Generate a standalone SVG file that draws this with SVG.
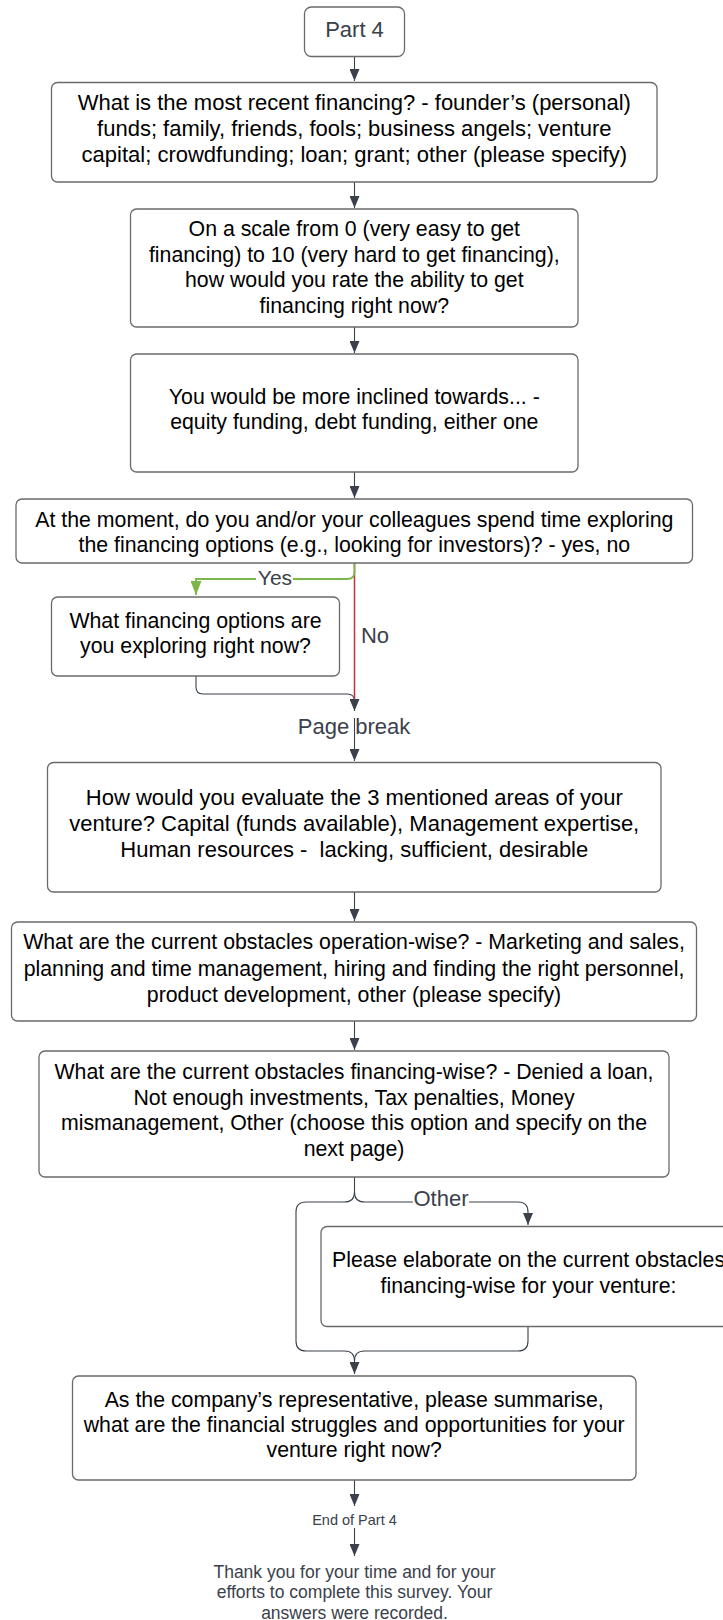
<svg xmlns="http://www.w3.org/2000/svg" width="723" height="1620" viewBox="0 0 723 1620">
<style>
.box{fill:#fff;stroke:#6a6a6a;stroke-width:1.3}
.t{font-family:"Liberation Sans",Arial,sans-serif;font-size:21.3px;fill:#000;text-anchor:middle}
.t1{font-size:22px}
.g{font-family:"Liberation Sans",Arial,sans-serif;font-size:22px;fill:#3a414a;text-anchor:middle}
.c{fill:none;stroke:#3a414a;stroke-width:1.1}
</style>
<defs>
<marker id="arr" markerUnits="userSpaceOnUse" markerWidth="12" markerHeight="10" viewBox="0 0 12 10" refX="12" refY="5" orient="auto"><path d="M0,0 L12,5 L0,10 z" fill="#3a414a"/></marker>
<marker id="arrG" markerUnits="userSpaceOnUse" markerWidth="14" markerHeight="11" viewBox="0 0 14 11" refX="14" refY="5.5" orient="auto"><path d="M0,0 L14,5.5 L0,11 z" fill="#7ab648"/></marker>
</defs>
<rect width="723" height="1620" fill="#fff"/>

<g id="connectors">
<path class="c" d="M354.5,56.5 V81" marker-end="url(#arr)"/>
<path class="c" d="M354.5,182 V208" marker-end="url(#arr)"/>
<path class="c" d="M354.5,327 V353" marker-end="url(#arr)"/>
<path class="c" d="M354.5,472 V498" marker-end="url(#arr)"/>
<path class="c" d="M196,676 V687 Q196,694 203,694 H347 Q354.5,694 354.5,701 V711" marker-end="url(#arr)"/>
<path d="M354.5,563 V699" fill="none" stroke="#c92d39" stroke-width="1.5"/>
<path d="M354.5,563 V572 Q354.5,579 347,579 H196 V595" fill="none" stroke="#7ab648" stroke-width="1.8" marker-end="url(#arrG)"/>
<rect x="256" y="568" width="37" height="20" fill="#fff"/>
<path class="c" d="M354.5,718 V761" marker-end="url(#arr)"/>
<path class="c" d="M354.5,892 V921" marker-end="url(#arr)"/>
<path class="c" d="M354.5,1021 V1050" marker-end="url(#arr)"/>
<path class="c" d="M354.5,1177 V1192 Q354.5,1202 344.5,1202 H306 Q296,1202 296,1212 V1341 Q296,1351 306,1351 H344.5 Q354.5,1351 354.5,1361 V1374" marker-end="url(#arr)"/>
<path class="c" d="M354.5,1192 Q354.5,1202 364.5,1202 H518 Q528,1202 528,1212 V1225" marker-end="url(#arr)"/>
<path class="c" d="M528,1327 V1341 Q528,1351 518,1351 H364.5 Q354.5,1351 354.5,1361"/>
<rect x="413" y="1190" width="56" height="22" fill="#fff"/>
<path class="c" d="M354.5,1480 V1506" marker-end="url(#arr)"/>
<path class="c" d="M354.5,1528 V1556" marker-end="url(#arr)"/>
<text class="g" x="275" y="584.5" style="font-size:21px">Yes</text>
<text class="g" x="375" y="643">No</text>
<text class="g" x="441" y="1206">Other</text>
</g>

<g id="part4">
<rect class="box" x="304.5" y="7" width="100" height="49.5" rx="7"/>
<text class="g" x="354.5" y="36.5">Part 4</text>
</g>

<g id="q-recent-financing">
<rect class="box" x="51.5" y="82.5" width="605.5" height="99.5" rx="6"/>
<text class="t t1" x="354.3" y="110">What is the most recent financing? - founder’s (personal)</text>
<text class="t t1" x="354.3" y="136">funds; family, friends, fools; business angels; venture</text>
<text class="t t1" x="354.3" y="162">capital; crowdfunding; loan; grant; other (please specify)</text>
</g>

<g id="q-scale">
<rect class="box" x="130.5" y="209" width="447.5" height="118" rx="6"/>
<text class="t" x="354.3" y="236">On a scale from 0 (very easy to get</text>
<text class="t" x="354.3" y="261.5">financing) to 10 (very hard to get financing),</text>
<text class="t" x="354.3" y="287">how would you rate the ability to get</text>
<text class="t" x="354.3" y="312.5">financing right now?</text>
</g>

<g id="q-inclined">
<rect class="box" x="130.5" y="354" width="447.5" height="118" rx="6"/>
<text class="t" x="354.3" y="403.5">You would be more inclined towards... -</text>
<text class="t" x="354.3" y="429">equity funding, debt funding, either one</text>
</g>

<g id="q-exploring">
<rect class="box" x="16" y="499" width="676.5" height="64" rx="6"/>
<text class="t" x="354.3" y="526.5">At the moment, do you and/or your colleagues spend time exploring</text>
<text class="t" x="354.3" y="552">the financing options (e.g., looking for investors)? - yes, no</text>
</g>

<g id="q-options">
<rect class="box" x="51.5" y="597" width="288" height="79" rx="6"/>
<text class="t" x="195.5" y="628">What financing options are</text>
<text class="t" x="195.5" y="653">you exploring right now?</text>
</g>

<g id="page-break">
<text class="g" x="354" y="734">Page break</text>
</g>

<g id="q-evaluate">
<rect class="box" x="47.5" y="762.5" width="613.5" height="129.5" rx="6"/>
<text class="t t1" x="354.3" y="804.5">How would you evaluate the 3 mentioned areas of your</text>
<text class="t t1" x="354.3" y="831">venture? Capital (funds available), Management expertise,</text>
<text class="t t1" x="354.3" y="857">Human resources -&#160; lacking, sufficient, desirable</text>
</g>

<g id="q-operation">
<rect class="box" x="11.5" y="922" width="685" height="99" rx="6"/>
<text class="t" x="354" y="949">What are the current obstacles operation-wise? - Marketing and sales,</text>
<text class="t" x="354" y="975.5">planning and time management, hiring and finding the right personnel,</text>
<text class="t" x="354" y="1001.5">product development, other (please specify)</text>
</g>

<g id="q-financing-obstacles">
<rect class="box" x="39" y="1051" width="630" height="126" rx="6"/>
<text class="t" x="354" y="1078.5">What are the current obstacles financing-wise? - Denied a loan,</text>
<text class="t" x="354" y="1104.5">Not enough investments, Tax penalties, Money</text>
<text class="t" x="354" y="1130">mismanagement, Other (choose this option and specify on the</text>
<text class="t" x="354" y="1156">next page)</text>
</g>

<g id="q-elaborate">
<rect class="box" x="321" y="1226.5" width="415" height="100" rx="6"/>
<text class="t" x="528.5" y="1267">Please elaborate on the current obstacles</text>
<text class="t" x="528.5" y="1292.5">financing-wise for your venture:</text>
</g>

<g id="q-summarise">
<rect class="box" x="72.5" y="1376" width="563.5" height="104" rx="6"/>
<text class="t" x="354.2" y="1406.5">As the company’s representative, please summarise,</text>
<text class="t" x="354.2" y="1432">what are the financial struggles and opportunities for your</text>
<text class="t" x="354.2" y="1457">venture right now?</text>
</g>

<g id="end-part4">
<text class="g" x="354.5" y="1524.5" style="font-size:14.5px">End of Part 4</text>
</g>

<g id="thank-you">
<text class="g" x="354.5" y="1577.5" style="font-size:17.5px">Thank you for your time and for your</text>
<text class="g" x="354.5" y="1598" style="font-size:17.5px">efforts to complete this survey. Your</text>
<text class="g" x="354.5" y="1618.5" style="font-size:17.5px">answers were recorded.</text>
</g>
</svg>
